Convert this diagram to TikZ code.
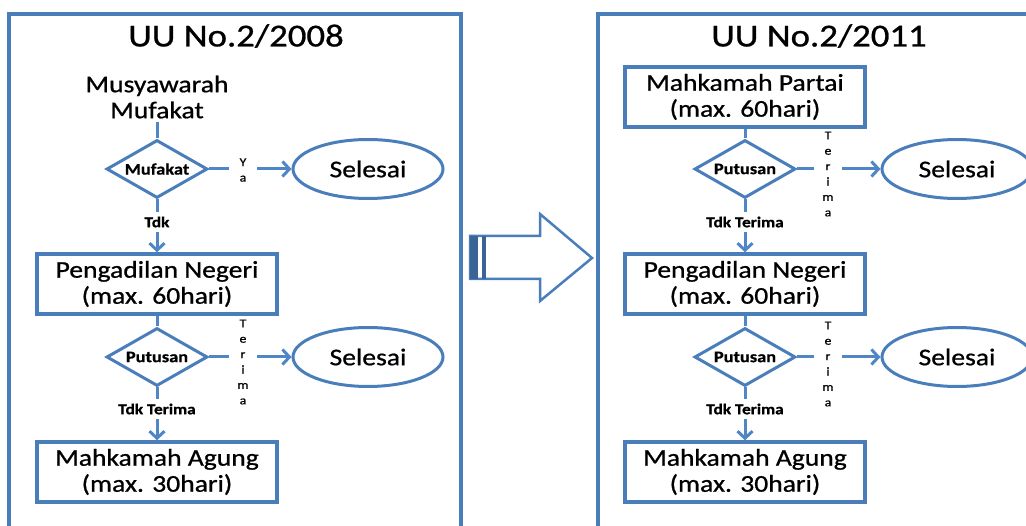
\documentclass[tikz,border=0pt]{standalone}
\usepackage{fontspec}
\setmainfont{Carlito}[FakeStretch=1.15,FakeBold=0.8]
\usetikzlibrary{shapes.geometric,arrows.meta}
\definecolor{frameblue}{HTML}{4A7EBB}
\definecolor{lineblue}{HTML}{4F86C6}
\definecolor{darkblue}{HTML}{3A6496}
\begin{document}
\begin{tikzpicture}[x=1pt,y=-1pt,
 panel/.style={draw=frameblue,line width=3.5pt},
 procbox/.style={draw=frameblue,line width=3.5pt,minimum width=240pt,minimum height=60pt,inner sep=0pt,align=center,font=\fontsize{24}{26}\selectfont},
 decide/.style={diamond,draw=frameblue,line width=3pt,minimum width=101pt,minimum height=58pt,inner sep=0pt,aspect=1.74,font=\bfseries\fontsize{16}{17}\selectfont},
 endnode/.style={ellipse,draw=frameblue,line width=3pt,minimum width=150pt,minimum height=59pt,inner sep=0pt,font=\fontsize{24}{26}\selectfont},
 conn/.style={draw=lineblue,line width=3pt},
 arr/.style={conn,-{Straight Barb[length=7pt,width=15pt]}},
 vlabel/.style={minimum width=28pt,inner sep=0pt,align=center,font=\fontsize{12}{15.4}\selectfont},
 hlabel/.style={minimum height=20pt,inner sep=0pt,font=\bfseries\fontsize{15}{16}\selectfont},
 titletext/.style={font=\fontsize{32}{34}\selectfont},
 plaintext/.style={align=center,inner sep=3pt,font=\fontsize{24}{26}\selectfont}]

\useasboundingbox (0,0) rectangle (1026,526);

% panels
\draw[panel] (9,14) rectangle (461,545);
\draw[panel] (598,14) rectangle (1045,545);

% titles
\node[titletext] (t1) at (236,36) {UU No.2/2008};
\node[titletext] (t2) at (819,36) {UU No.2/2011};

% left panel
\node[plaintext] (mm) at (157,97) {Musyawarah\\Mufakat};
\node[decide] (d1) at (157,169) {Mufakat};
\node[vlabel] (ya) at (243,170) {Y\\a};
\node[endnode] (e1) at (368,169) {Selesai};
\node[hlabel] (tdk) at (157,222) {Tdk};
\node[procbox] (pn1) at (157,284) {Pengadilan Negeri\\(max. 60hari)};
\node[decide] (d2) at (157,357) {Putusan};
\node[vlabel] (ter1) at (243,362) {T\\e\\r\\i\\m\\a};
\node[endnode] (e2) at (368,357) {Selesai};
\node[hlabel] (tt1) at (157,409) {Tdk Terima};
\node[procbox] (ma1) at (157,472) {Mahkamah Agung\\(max. 30hari)};

\draw[conn] (mm.south) -- (d1.north);
\draw[conn] (d1.east) -- (d1.east -| ya.west);
\draw[arr] (ya.east |- e1.west) -- (e1.west);
\draw[conn] (d1.south) -- (tdk.north);
\draw[arr] (tdk.south) -- (pn1.north);
\draw[conn] (pn1.south) -- (d2.north);
\draw[conn] (d2.east) -- (d2.east -| ter1.west);
\draw[arr] (ter1.east |- e2.west) -- (e2.west);
\draw[conn] (d2.south) -- (tt1.north);
\draw[arr] (tt1.south) -- (ma1.north);

% right panel
\node[procbox] (mp) at (745,97) {Mahkamah Partai\\(max. 60hari)};
\node[decide] (d3) at (745,169) {Putusan};
\node[vlabel] (ter2) at (828,174) {T\\e\\r\\i\\m\\a};
\node[endnode] (e3) at (957,169) {Selesai};
\node[hlabel] (tt2) at (745,222) {Tdk Terima};
\node[procbox] (pn2) at (745,284) {Pengadilan Negeri\\(max. 60hari)};
\node[decide] (d4) at (745,357) {Putusan};
\node[vlabel] (ter3) at (828,364) {T\\e\\r\\i\\m\\a};
\node[endnode] (e4) at (957,357) {Selesai};
\node[hlabel] (tt3) at (745,409) {Tdk Terima};
\node[procbox] (ma2) at (745,472) {Mahkamah Agung\\(max. 30hari)};

\draw[conn] (mp.south) -- (d3.north);
\draw[conn] (d3.east) -- (d3.east -| ter2.west);
\draw[arr] (ter2.east |- e3.west) -- (e3.west);
\draw[conn] (d3.south) -- (tt2.north);
\draw[arr] (tt2.south) -- (pn2.north);
\draw[conn] (pn2.south) -- (d4.north);
\draw[conn] (d4.east) -- (d4.east -| ter3.west);
\draw[arr] (ter3.east |- e4.west) -- (e4.west);
\draw[conn] (d4.south) -- (tt3.north);
\draw[arr] (tt3.south) -- (ma2.north);

% big block arrow
\draw[draw=frameblue,line width=2.5pt,line join=miter] (470,236) -- (540,236) -- (540,214) -- (592,258) -- (540,301) -- (540,279) -- (470,279) -- cycle;
\fill[darkblue] (470,236) rectangle (478,279);
\fill[darkblue] (482,236) rectangle (486,279);
\end{tikzpicture}
\end{document}
